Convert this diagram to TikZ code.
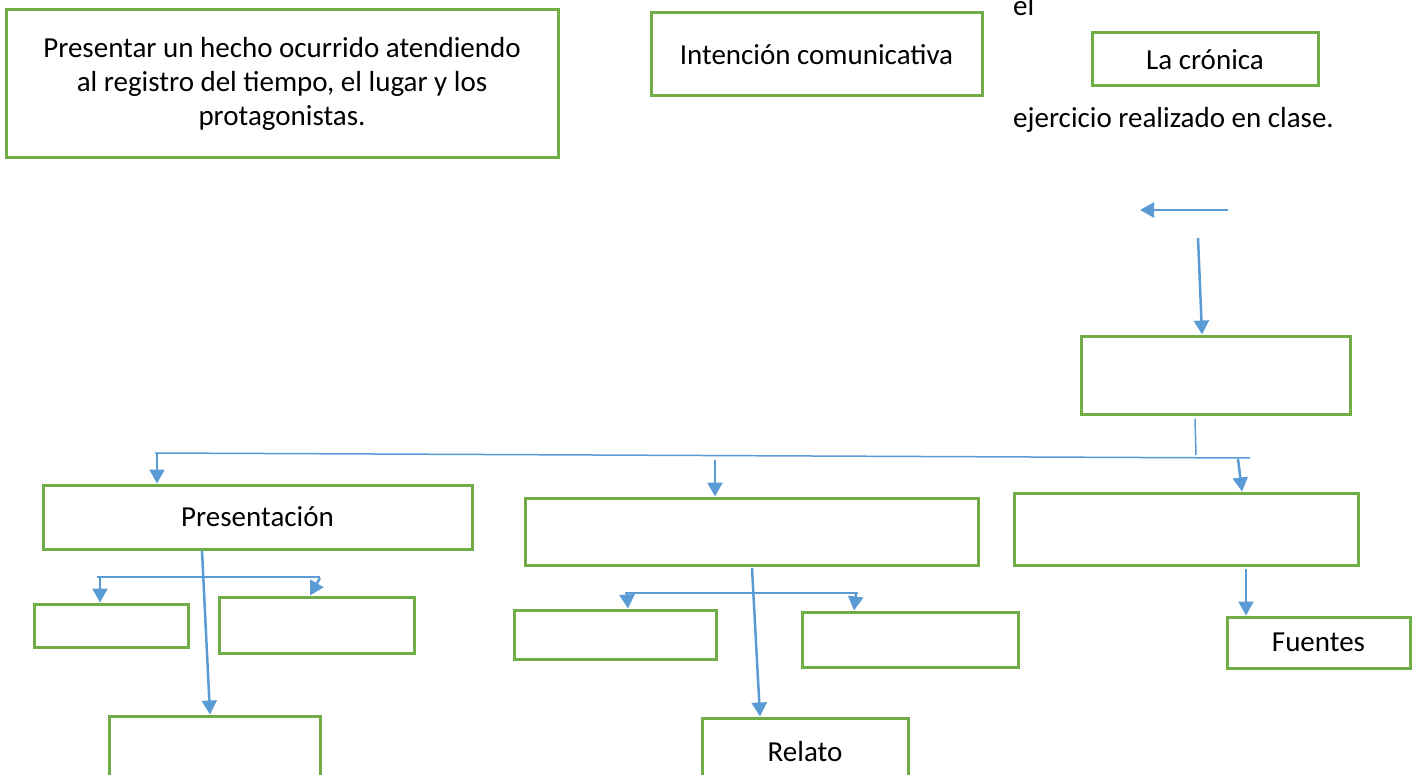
\documentclass[tikz,border=0pt]{standalone}
\usepackage{fontspec}
\setmainfont{Carlito}
\usetikzlibrary{arrows.meta}
\definecolor{verde}{HTML}{70AD47}
\definecolor{azul}{HTML}{5B9BD5}
\tikzset{
  caja/.style={draw=verde, line width=3pt, inner sep=0pt, align=center},
  flecha/.style={draw=azul, line width=2.5pt, -{Triangle[width=15pt,length=14pt]}},
  linea/.style={draw=azul, line width=1.5pt},
  texto/.style={inner sep=0pt, anchor=base west},
}
\begin{document}
\begin{tikzpicture}[x=1pt, y=-1pt, font=\fontsize{29}{34}\selectfont]
  \clip (0,0) rectangle (1415,775);

  % Define nodes
  \node[caja, minimum width=552pt, minimum height=148pt] (hecho) at (282,84)
    {Presentar un hecho ocurrido atendiendo\\al registro del tiempo, el lugar y los\\protagonistas.};
  \node[caja, minimum width=331pt, minimum height=83pt] (intencion) at (816.5,54.5) {Intención comunicativa};
  \node[caja, minimum width=226pt, minimum height=53pt] (cronica) at (1205,59.5) {La crónica};
  \node[texto] (el) at (1013,16) {el};
  \node[texto] (ejercicio) at (1013,128) {ejercicio realizado en clase.};

  \node[caja, minimum width=269pt, minimum height=78pt] (centro) at (1215.5,375) {};
  \node[caja, minimum width=429pt, minimum height=64pt] (pres) at (257.5,517) {Presentación};
  \node[caja, minimum width=453pt, minimum height=67pt] (medio) at (751.5,531.5) {};
  \node[caja, minimum width=344pt, minimum height=72pt] (der) at (1186,529) {};
  \node[caja, minimum width=183pt, minimum height=51pt] (fuentes) at (1318.5,642.5) {Fuentes};

  \node[caja, minimum width=154pt, minimum height=43pt] (p1) at (111,625.5) {};
  \node[caja, minimum width=195pt, minimum height=56pt] (p2) at (316.5,625) {};
  \node[caja, minimum width=211pt, minimum height=74pt] (p3) at (214.5,753) {};
  \node[caja, minimum width=202pt, minimum height=49pt] (m1) at (615,634.5) {};
  \node[caja, minimum width=216pt, minimum height=55pt] (m2) at (910,639.5) {};
  \node[caja, minimum width=206pt, minimum height=68pt] (relato) at (805,752) {Relato};

  % Free ends of the connectors
  \coordinate (iz1) at (1228,210);
  \coordinate (iz2) at (1140,210);
  \coordinate (baja1) at (1198,238);
  \coordinate (baja2) at (1202,0);
  \coordinate (v1) at (1195,419);
  \coordinate (v2) at (1196,455);
  \coordinate (h1) at (155,453);
  \coordinate (h2) at (1250,458);
  \coordinate (a1) at (157,454);
  \coordinate (a2) at (715,460);
  \coordinate (a3) at (1238,459);
  \coordinate (t3) at (1242,0);
  \coordinate (f1) at (1246,569);
  \coordinate (pb1) at (202,551);
  \coordinate (pb2) at (210,0);
  \coordinate (ph1) at (97,577);
  \coordinate (ph2) at (320,577);
  \coordinate (pa1) at (100,578);
  \coordinate (pa2) at (320,578);
  \coordinate (pt2) at (310,0);
  \coordinate (mb1) at (752,568);
  \coordinate (mb2) at (760,0);
  \coordinate (mh1) at (625,593);
  \coordinate (mh2) at (858,593);
  \coordinate (ma1) at (627,594);
  \coordinate (mt1) at (628,0);
  \coordinate (ma2) at (856,594);
  \coordinate (mt2) at (854,0);

  % Connect the nodes
  \draw[flecha] (iz1) -- (iz2);
  \draw[flecha] (baja1) -- (baja2 |- centro.north);
  \draw[linea] (v1) -- (v2);
  \draw[linea] (h1) -- (h2);
  \draw[flecha] (a1) -- (a1 |- pres.north);
  \draw[flecha] (a2) -- (a2 |- medio.north);
  \draw[flecha] (a3) -- (t3 |- der.north);
  \draw[flecha] (f1) -- (f1 |- fuentes.north);

  \draw[flecha] (pb1) -- (pb2 |- p3.north);
  \draw[linea] (ph1) -- (ph2);
  \draw[flecha] (pa1) -- (pa1 |- p1.north);
  \draw[flecha] (pa2) -- (pt2 |- p2.north);

  \draw[flecha] (mb1) -- (mb2 |- relato.north);
  \draw[linea] (mh1) -- (mh2);
  \draw[flecha] (ma1) -- (mt1 |- m1.north);
  \draw[flecha] (ma2) -- (mt2 |- m2.north);
\end{tikzpicture}
\end{document}
